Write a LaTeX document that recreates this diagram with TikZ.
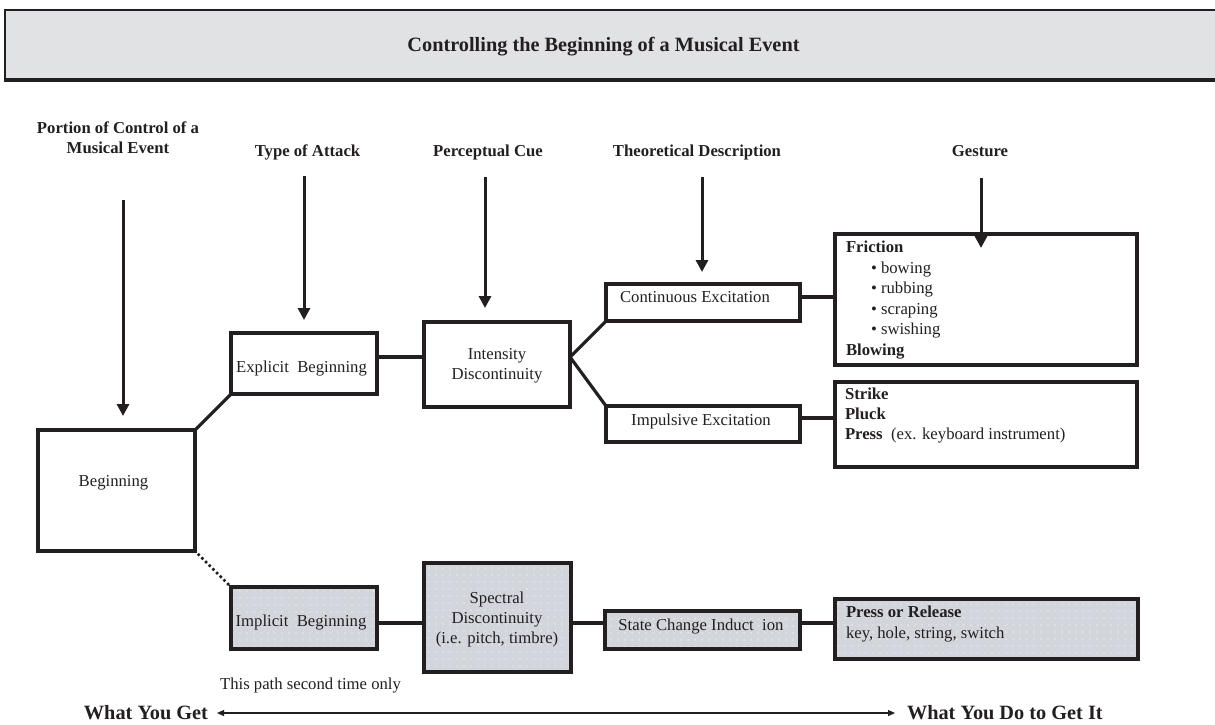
\documentclass[tikz,border=0pt]{standalone}
\usepackage{fontspec}
\setmainfont{Liberation Serif}
\usetikzlibrary{arrows.meta,patterns.meta}
\definecolor{linec}{HTML}{231F20}
\definecolor{boxgray}{HTML}{D2D5DB}
\definecolor{titlegray}{HTML}{E1E2E4}
\newcommand\myfn{\fontsize{16.7pt}{20pt}\selectfont}
\newcommand\myfb{\fontsize{16.7pt}{20pt}\selectfont\bfseries}
\newcommand\myft{\fontsize{20.3pt}{24pt}\selectfont\bfseries}
\tikzset{
  box/.style={draw=linec, line width=3.2pt, inner sep=0pt, outer sep=0pt},
  graybox/.style={box, preaction={fill=boxgray}, preaction={pattern={Dots[distance=6.5pt,radius=0.7pt]}, pattern color=white}},
  txt/.style={inner sep=0pt, outer sep=0pt, font=\myfn, text=linec},
  hdr/.style={inner sep=0pt, outer sep=0pt, font=\myfb, text=linec},
  big/.style={inner sep=0pt, outer sep=0pt, font=\myft, text=linec},
  conn/.style={draw=linec, line width=3.2pt},
  dotconn/.style={draw=linec, line width=3.6pt, line cap=round, dash pattern=on 0pt off 5.2pt},
  downarrow/.style={draw=linec, line width=3pt, -{Triangle[width=12pt,length=12pt]}},
  thinarrow/.style={draw=linec, line width=1.2pt, {Triangle[width=6pt,length=7pt]}-{Triangle[width=6pt,length=7pt]}}
}
\begin{document}
\begin{tikzpicture}[x=1pt,y=-1pt]
\useasboundingbox (0,0) rectangle (1215,724);
% title banner
\fill[titlegray] (5,10) rectangle (1215,80);
\draw[linec, line width=2.8pt] (1215,10) -- (5,10) -- (5,80);
\draw[linec, line width=3.8pt] (3.6,80) -- (1215,80);
\node[big, anchor=base] (title) at (603.5,51.5) {Controlling the Beginning of a Musical Event};

% column headers
\node[hdr, align=center, anchor=center] (h1) at (118,137.5) {Portion of Control of a\\Musical Event};
\node[hdr, anchor=base] (h2) at (307.5,156.5) {Type of Attack};
\node[hdr, anchor=base] (h3) at (488,156.5) {Perceptual Cue};
\node[hdr, anchor=base] (h4) at (697,156.5) {Theoretical Description};
\node[hdr, anchor=base] (h5) at (980,156.5) {Gesture};

% boxes
\node[box, minimum width=157pt, minimum height=121pt] (beg) at (116.5,490.5) {};
\node[box, minimum width=146pt, minimum height=61pt] (expl) at (304,363.5) {};
\node[box, minimum width=146pt, minimum height=85pt] (inten) at (497,364.5) {};
\node[box, minimum width=194pt, minimum height=37pt] (cont) at (703,302.5) {};
\node[box, minimum width=194pt, minimum height=36pt] (impul) at (703,424) {};
\node[box, minimum width=302pt, minimum height=131pt] (fric) at (986,299.5) {};
\node[box, minimum width=302pt, minimum height=85pt] (strike) at (986,424.5) {};
\node[graybox, minimum width=146pt, minimum height=62pt] (impl) at (304,618) {};
\node[graybox, minimum width=147pt, minimum height=109pt] (spec) at (497.5,617.5) {};
\node[graybox, minimum width=195pt, minimum height=38pt] (state) at (702.5,630) {};
\node[graybox, minimum width=303pt, minimum height=60pt] (press) at (986.5,629) {};

% box texts
\node[txt, anchor=base] (tbeg) at (113.5,486.5) {Beginning};
\node[txt, anchor=base] (texpl) at (301.5,372) {Explicit\ \ Beginning};
\node[txt, align=center, anchor=center] (tinten) at (497,366) {Intensity\\Discontinuity};
\node[txt, anchor=base] (tcont) at (695,302.5) {Continuous Excitation};
\node[txt, anchor=base] (timpul) at (701,425.5) {Impulsive Excitation};
\node[hdr, anchor=base west] (f1) at (846,252.5) {Friction};
\node[txt, anchor=base west] (f2) at (871,273.5) {• bowing};
\node[txt, anchor=base west] (f3) at (871,293.5) {• rubbing};
\node[txt, anchor=base west] (f4) at (871,314.5) {• scraping};
\node[txt, anchor=base west] (f5) at (871,334.5) {• swishing};
\node[hdr, anchor=base west] (f6) at (846,355.5) {Blowing};
\node[hdr, anchor=base west] (s1) at (845,399.5) {Strike};
\node[hdr, anchor=base west] (s2) at (845,419.5) {Pluck};
\node[txt, anchor=base west] (s3) at (845,439.5) {\textbf{Press}\ \ (ex. keyboard instrument)};
\node[txt, anchor=base] (timpl) at (301,626.5) {Implicit\ \ Beginning};
\node[txt, align=center, anchor=center] (tspec) at (497,619) {Spectral\\Discontinuity\\(i.e. pitch, timbre)};
\node[txt, anchor=base] (tstate) at (701,630.5) {State Change Induct\ \ ion};
\node[hdr, anchor=base west] (p1) at (846,617.5) {Press or Release};
\node[txt, anchor=base west] (p2) at (846,638.5) {key, hole, string, switch};

% connectors
\draw[conn] (beg.north east) -- (expl.south west);
\draw[dotconn] (beg.south east) -- (impl.north west);
\draw[conn] (expl.east |- 0,357) -- (inten.west |- 0,357);
\coordinate (ir) at (inten.east |- 0,357);
\draw[conn, line join=miter] (cont.south west) -- (ir) -- (impul.north west);
\draw[conn] (cont.east |- 0,297) -- (fric.west |- 0,297);
\draw[conn] (impul.east |- 0,418) -- (strike.west |- 0,418);
\draw[conn] (impl.east |- 0,623) -- (spec.west |- 0,623);
\draw[conn] (spec.east |- 0,623) -- (state.west |- 0,623);
\draw[conn] (state.east |- 0,623) -- (press.west |- 0,623);

% down arrows
\coordinate (a1) at (123,200);
\coordinate (a2) at (304,176);
\coordinate (a3) at (485,177);
\coordinate (a4) at (702,177);
\coordinate (a5) at (981,178);
\draw[downarrow] (a1) -- (a1 |- 0,416);
\draw[downarrow] (a2) -- (a2 |- 0,320);
\draw[downarrow] (a3) -- (a3 |- 0,308);
\draw[downarrow] (a4) -- (a4 |- 0,272);
\draw[downarrow] (a5) -- (a5 |- 0,248);

% bottom
\node[txt, anchor=base] (note) at (310.5,689.5) {This path second time only};
\node[big, anchor=base east] (get) at (208,719.5) {What You Get};
\node[big, anchor=base west] (doit) at (907,719.5) {What You Do to Get It};
\draw[thinarrow] ([xshift=9pt]get.east |- 0,713) -- ([xshift=-12pt]doit.west |- 0,713);
\end{tikzpicture}
\end{document}
